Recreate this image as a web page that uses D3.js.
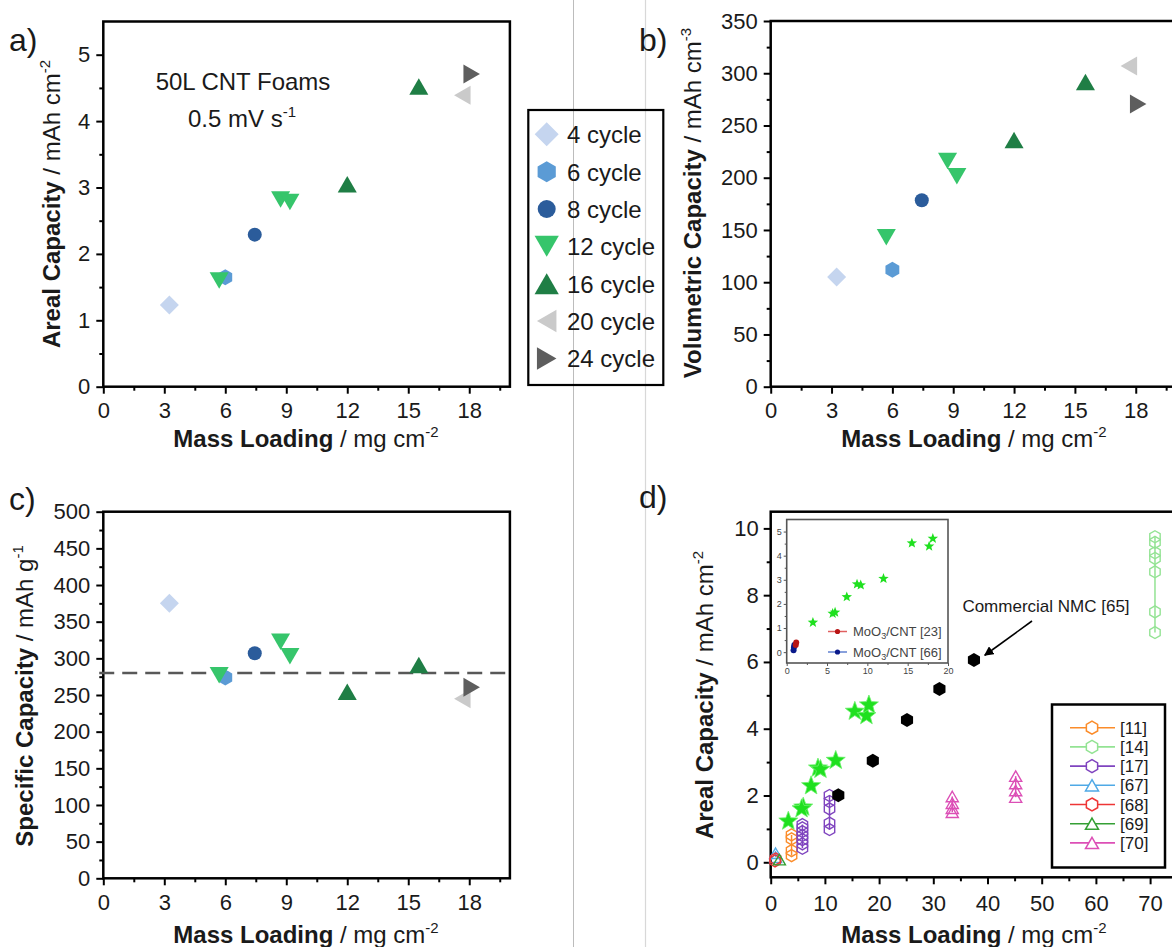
<!DOCTYPE html>
<html><head><meta charset="utf-8">
<script src="https://cdn.jsdelivr.net/npm/d3@7"></script>
<style>
body{margin:0;background:#fff;}
svg{display:block;font-family:"Liberation Sans",Arial,sans-serif;}
</style></head><body>
<svg id="chart" width="1172" height="947"></svg>
<script>
// ---------------- DATA ----------------
const cycleLabels = ["4 cycle","6 cycle","8 cycle","12 cycle","16 cycle","20 cycle","24 cycle"];
const massLoading = [[3.25],[6.0],[7.45],[5.7,8.72,9.18],[12.0,15.52],[17.66],[18.12]];
const arealCapacity = [[1.23],[1.65],[2.29],[1.6,2.82,2.78],[3.05,4.52],[4.39],[4.71]];
const volumetricCapacity = [[105],[112],[178.5],[143,216,201.5],[236,291.5],[307],[270.5]];
const specificCapacity = [[375],[274],[307],[277,322.5,303],[254.5,291],[245],[260.5]];
const averageSpecific = 280;

const nmcLoading = [12.47,18.84,25.15,31.13,37.5];
const nmcAreal = [2.01,3.04,4.26,5.19,6.06];

const refLabels = ["[11]","[14]","[17]","[67]","[68]","[69]","[70]"];
const refLoading = [
  [3.85,3.85,3.85,3.85],
  [70.9,70.9,70.9,70.9,70.9,70.9,70.9],
  [5.85,5.85,5.85,5.85,5.85,5.85,5.85,10.85,10.85,10.85,10.85,10.85],
  [0.9,0.9],
  [0.8,0.9],
  [1.6],
  [33.5,33.5,33.5,33.5,45.2,45.2,45.2,45.2]
];
const refAreal = [
  [0.2,0.35,0.7,0.82],
  [9.75,9.58,9.27,9.1,8.7,7.5,6.88],
  [0.42,0.55,0.68,0.8,0.92,1.03,1.13,0.98,1.17,1.6,1.82,2.0],
  [0.15,0.27],
  [0.04,0.1],
  [0.08],
  [1.5,1.62,1.77,1.97,1.95,2.15,2.36,2.58]
];
const moo23Loading = [1.12,1.18];
const moo23Areal = [0.3,0.4];
const moo66Loading = [0.85,0.9,0.95];
const moo66Areal = [0.08,0.2,0.3];

const xTicksSmall = [0,3,6,9,12,15,18];
const xMinorSmall = [1.5,4.5,7.5,10.5,13.5,16.5,19.5];
const yTicksA = [0,1,2,3,4,5];
const yMinorA = [0.5,1.5,2.5,3.5,4.5];
const yTicksB = [0,50,100,150,200,250,300,350];
const yMinorB = [25,75,125,175,225,275,325];
const yTicksC = [0,50,100,150,200,250,300,350,400,450,500];
const yMinorC = [25,75,125,175,225,275,325,375,425,475];
const xTicksD = [0,10,20,30,40,50,60,70];
const xMinorD = [5,15,25,35,45,55,65,75];
const yTicksD = [0,2,4,6,8,10];
const yMinorD = [1,3,5,7,9];
const xTicksInset = [0,5,10,15,20];
const xMinorInset = [2.5,7.5,12.5,17.5];
const yTicksInset = [0,1,2,3,4,5];
const yMinorInset = [0.5,1.5,2.5,3.5,4.5];

// ---------------- SYMBOLS ----------------
const S = {
  diamond:{draw(c,r){c.moveTo(0,-r);c.lineTo(r,0);c.lineTo(0,r);c.lineTo(-r,0);c.closePath();}},
  hexagon:{draw(c,r){for(let i=0;i<6;i++){const a=Math.PI/3*i-Math.PI/2;const px=r*Math.cos(a),py=r*Math.sin(a);i?c.lineTo(px,py):c.moveTo(px,py);}c.closePath();}},
  circle:{draw(c,r){c.moveTo(r,0);c.arc(0,0,r,0,2*Math.PI);}},
  triUp:{draw(c,r){const h=0.75*r,w=0.866*r;c.moveTo(0,-h);c.lineTo(w,h);c.lineTo(-w,h);c.closePath();}},
  triDown:{draw(c,r){const h=0.75*r,w=0.866*r;c.moveTo(0,h);c.lineTo(w,-h);c.lineTo(-w,-h);c.closePath();}},
  triLeft:{draw(c,r){const h=0.75*r,w=0.866*r;c.moveTo(-h,0);c.lineTo(h,-w);c.lineTo(h,w);c.closePath();}},
  triRight:{draw(c,r){const h=0.75*r,w=0.866*r;c.moveTo(h,0);c.lineTo(-h,-w);c.lineTo(-h,w);c.closePath();}},
  star:{draw(c,r){const ri=r*0.42;for(let i=0;i<10;i++){const rr=i%2?ri:r;const a=Math.PI/5*i-Math.PI/2;const px=rr*Math.cos(a),py=rr*Math.sin(a);i?c.lineTo(px,py):c.moveTo(px,py);}c.closePath();}}
};
const sym = (type,r)=>d3.symbol().type(type).size(r)();

const cycleStyle = [
  {shape:S.diamond, r:9.5, fill:"#c5d5ef", lr:12},
  {shape:S.hexagon, r:8, fill:"#5b9bd5", lr:10.5},
  {shape:S.circle, r:7, fill:"#2b5c9b", lr:9},
  {shape:S.triDown, r:11, fill:"#36c56b", lr:14},
  {shape:S.triUp, r:11, fill:"#1f7e45", lr:14},
  {shape:S.triLeft, r:11, fill:"#cacaca", lr:13},
  {shape:S.triRight, r:11, fill:"#5e5e5e", lr:13}
];
const refStyle = [
  {shape:S.hexagon, color:"#fb8c2a"},
  {shape:S.hexagon, color:"#93e393"},
  {shape:S.hexagon, color:"#7f44bf"},
  {shape:S.triUp, color:"#4fa9e6"},
  {shape:S.hexagon, color:"#ee3535"},
  {shape:S.triUp, color:"#35a035"},
  {shape:S.triUp, color:"#dc4fb6"}
];

const svg = d3.select("#chart");
const INK = "#1a1a1a";

// divider lines
svg.append("line").attr("x1",573.5).attr("x2",573.5).attr("y1",0).attr("y2",947).attr("stroke","#bcbcbc").attr("stroke-width",1);
svg.append("line").attr("x1",645.5).attr("x2",645.5).attr("y1",0).attr("y2",947).attr("stroke","#d8d8d8").attr("stroke-width",1.2);

function panel(cfg){
  const g = svg.append("g");
  const x = d3.scaleLinear().domain(cfg.xDom).range([cfg.left,cfg.right]);
  const y = d3.scaleLinear().domain(cfg.yDom).range([cfg.bottom,cfg.top]);
  const fs = cfg.fs || 22;
  const lw = cfg.lw || 2.5;
  const mj = cfg.major || 7, mn = cfg.minor || 4;
  function style(a, sw){ a.select(".domain").remove(); a.selectAll("line").attr("stroke",cfg.tickColor||"#000").attr("stroke-width",sw); a.selectAll("text").attr("font-size",fs).attr("fill",cfg.labelColor||INK).attr("font-family",null); }
  g.append("g").attr("transform",`translate(0,${cfg.bottom})`).call(d3.axisBottom(x).tickValues(cfg.xMinor).tickSize(mn).tickFormat("")).call(a=>style(a,cfg.tw||2));
  g.append("g").attr("transform",`translate(0,${cfg.bottom})`).call(d3.axisBottom(x).tickValues(cfg.xMajor).tickSize(mj).tickPadding(cfg.xpad||9).tickFormat(d3.format("d"))).call(a=>style(a,cfg.tw||2));
  g.append("g").attr("transform",`translate(${cfg.left},0)`).call(d3.axisLeft(y).tickValues(cfg.yMinor).tickSize(mn).tickFormat("")).call(a=>style(a,cfg.tw||2));
  g.append("g").attr("transform",`translate(${cfg.left},0)`).call(d3.axisLeft(y).tickValues(cfg.yMajor).tickSize(mj).tickPadding(cfg.ypad||6).tickFormat(d3.format("d"))).call(a=>style(a,cfg.tw||2));
  g.append("rect").attr("x",cfg.left).attr("y",cfg.top).attr("width",cfg.right-cfg.left).attr("height",cfg.bottom-cfg.top)
    .attr("fill",cfg.fill||"none").attr("stroke",cfg.frameColor||"#000").attr("stroke-width",lw);
  return {g,x,y};
}

function title(x,y,rot,bold,normal,sup){
  const t = svg.append("text").attr("transform",`translate(${x},${y}) rotate(${rot})`).attr("text-anchor","middle").attr("font-size",24).attr("fill",INK);
  t.append("tspan").attr("font-weight","bold").text(bold);
  t.append("tspan").text(normal);
  t.append("tspan").attr("font-size",15).attr("dy",-10).text(sup);
}
function plabel(x,y,s){ svg.append("text").attr("x",x).attr("y",y).attr("font-size",32).attr("fill",INK).text(s); }

function drawCycles(p, values){
  cycleStyle.forEach((st,i)=>{
    massLoading[i].forEach((m,j)=>{
      p.g.append("path").attr("d",sym(st.shape,st.r)).attr("fill",st.fill)
        .attr("transform",`translate(${p.x(m)},${p.y(values[i][j])})`);
    });
  });
}

// ---------------- PANEL A ----------------
const pa = panel({left:103.3,right:509.9,top:21.5,bottom:386.7,xDom:[0,20],yDom:[0,5.5],
  xMajor:xTicksSmall,xMinor:xMinorSmall,yMajor:yTicksA,yMinor:yMinorA});
drawCycles(pa, arealCapacity);
title(60,204,-90,"Areal Capacity"," / mAh cm","-2");
title(306,447,0,"Mass Loading"," / mg cm","-2");
plabel(9,51,"a)");
svg.append("text").attr("x",243).attr("y",90).attr("text-anchor","middle").attr("font-size",24).attr("fill",INK).text("50L CNT Foams");
{const t=svg.append("text").attr("x",242).attr("y",126.5).attr("text-anchor","middle").attr("font-size",24).attr("fill",INK);
 t.append("tspan").text("0.5 mV s"); t.append("tspan").attr("font-size",15).attr("dy",-10).text("-1");}

// legend a
svg.append("rect").attr("x",528.3).attr("y",110).attr("width",135).attr("height",275).attr("fill","none").attr("stroke","#000").attr("stroke-width",2.2);
cycleLabels.forEach((lab,i)=>{
  const cy = 134.3 + i*37.35;
  const st = cycleStyle[i];
  svg.append("path").attr("d",sym(st.shape,st.lr)).attr("fill",st.fill).attr("transform",`translate(546.7,${cy})`);
  svg.append("text").attr("x",567).attr("y",cy+9).attr("font-size",24).attr("fill",INK).text(lab);
});

// ---------------- PANEL B ----------------
const pb = panel({left:770.7,right:1176.3,top:21,bottom:386.7,xDom:[0,20],yDom:[0,350],
  xMajor:xTicksSmall,xMinor:xMinorSmall,yMajor:yTicksB,yMinor:yMinorB});
drawCycles(pb, volumetricCapacity);
title(701,203,-90,"Volumetric Capacity"," / mAh cm","-3");
title(974,447,0,"Mass Loading"," / mg cm","-2");
plabel(639,51,"b)");

// ---------------- PANEL C ----------------
const pc = panel({left:103.3,right:509.9,top:511.7,bottom:878.3,xDom:[0,20],yDom:[0,500],
  xMajor:xTicksSmall,xMinor:xMinorSmall,yMajor:yTicksC,yMinor:yMinorC});
pc.g.append("line").attr("x1",pc.x(-0.2)).attr("x2",pc.x(20)).attr("y1",pc.y(averageSpecific)).attr("y2",pc.y(averageSpecific))
  .attr("stroke","#585858").attr("stroke-width",2.5).attr("stroke-dasharray","15,8");
drawCycles(pc, specificCapacity);
title(33,696,-90,"Specific Capacity"," / mAh g","-1");
title(306,943,0,"Mass Loading"," / mg cm","-2");
plabel(9,510,"c)");

// ---------------- PANEL D ----------------
const pd = panel({left:770.7,right:1177.2,top:511.7,bottom:877.3,xDom:[0,75],yDom:[-0.45,10.5],
  xMajor:xTicksD,xMinor:xMinorD,yMajor:yTicksD,yMinor:yMinorD,xpad:11,ypad:5});
title(713,695,-90,"Areal Capacity"," / mAh cm","-2");
title(974,943,0,"Mass Loading"," / mg cm","-2");
plabel(639,508,"d)");

// reference series
refStyle.forEach((st,i)=>{
  const groups = d3.groups(refLoading[i].map((m,j)=>[m,refAreal[i][j]]), d=>d[0]);
  groups.forEach(([m,pts])=>{
    const ys = pts.map(p=>p[1]);
    pd.g.append("line").attr("x1",pd.x(m)).attr("x2",pd.x(m)).attr("y1",pd.y(d3.min(ys))).attr("y2",pd.y(d3.max(ys)))
      .attr("stroke",st.color).attr("stroke-width",1.5);
  });
  refLoading[i].forEach((m,j)=>{
    pd.g.append("path").attr("d",sym(st.shape, st.shape===S.triUp?7:6)).attr("fill","none").attr("stroke",st.color).attr("stroke-width",1.4)
      .attr("transform",`translate(${pd.x(m)},${pd.y(refAreal[i][j])})`);
  });
});
// NMC black hexagons
nmcLoading.forEach((m,j)=>{
  pd.g.append("path").attr("d",sym(S.hexagon,7)).attr("fill","#000").attr("transform",`translate(${pd.x(m)},${pd.y(nmcAreal[j])})`);
});
// stars
massLoading.forEach((arr,i)=>arr.forEach((m,j)=>{
  pd.g.append("path").attr("d",sym(S.star,10)).attr("fill","#1fe01f").attr("stroke","#6cf06c").attr("stroke-width",0.8)
    .attr("transform",`translate(${pd.x(m)},${pd.y(arealCapacity[i][j])})`);
}));

// annotation
svg.append("defs").append("marker").attr("id","ah").attr("viewBox","0 0 10 10").attr("refX",9).attr("refY",5)
  .attr("markerWidth",6).attr("markerHeight",6).attr("orient","auto")
  .append("path").attr("d","M0,0L10,5L0,10Z").attr("fill","#000");
svg.append("line").attr("x1",1032).attr("y1",621).attr("x2",pd.x(39.5)).attr("y2",pd.y(6.2))
  .attr("stroke","#000").attr("stroke-width",1.6).attr("marker-end","url(#ah)");
svg.append("text").attr("x",1046).attr("y",612).attr("text-anchor","middle").attr("font-size",17).attr("fill",INK).text("Commercial NMC [65]");

// legend d
svg.append("rect").attr("x",1052).attr("y",704.5).attr("width",113).attr("height",163).attr("fill","#fff").attr("stroke","#000").attr("stroke-width",2.5);
refLabels.forEach((lab,i)=>{
  const cy = 727.7 + i*19.2;
  const st = refStyle[i];
  svg.append("line").attr("x1",1070).attr("x2",1115).attr("y1",cy).attr("y2",cy).attr("stroke",st.color).attr("stroke-width",1.6);
  svg.append("path").attr("d",sym(st.shape, st.shape===S.triUp?7.5:6.5)).attr("fill","#fff").attr("stroke",st.color).attr("stroke-width",1.5)
    .attr("transform",`translate(1092,${cy})`);
  svg.append("text").attr("x",1120).attr("y",cy+6).attr("font-size",17).attr("fill",INK).text(lab);
});

// inset
const pi = panel({left:786.7,right:948,top:519.5,bottom:663,xDom:[0,20],yDom:[-0.45,5.5],
  xMajor:xTicksInset,xMinor:xMinorInset,yMajor:yTicksInset,yMinor:yMinorInset,
  fs:9,lw:1.6,major:3,minor:2,tw:1,xpad:2,ypad:2,fill:"#fff",frameColor:"#555",tickColor:"#555",labelColor:"#444"});
pi.g.raise();
massLoading.forEach((arr,i)=>arr.forEach((m,j)=>{
  pi.g.append("path").attr("d",sym(S.star,5.5)).attr("fill","#1fe01f")
    .attr("transform",`translate(${pi.x(m)},${pi.y(arealCapacity[i][j])})`);
}));
moo66Loading.forEach((m,j)=>pi.g.append("circle").attr("cx",pi.x(m)).attr("cy",pi.y(moo66Areal[j])).attr("r",3).attr("fill","#0a1a8a"));
moo23Loading.forEach((m,j)=>pi.g.append("circle").attr("cx",pi.x(m)).attr("cy",pi.y(moo23Areal[j])).attr("r",3).attr("fill","#b81414"));
[["23","#e06060","#b81414"],["66","#6080d0","#0a1a8a"]].forEach(([ref,lc,dc],i)=>{
  const cy = 631.5 + i*20.5;
  pi.g.append("line").attr("x1",828).attr("x2",847).attr("y1",cy).attr("y2",cy).attr("stroke",lc).attr("stroke-width",1.5);
  pi.g.append("circle").attr("cx",837.5).attr("cy",cy).attr("r",2.6).attr("fill",dc);
  const t = pi.g.append("text").attr("x",853).attr("y",cy+4.5).attr("font-size",13).attr("fill","#444");
  t.append("tspan").text("MoO");
  t.append("tspan").attr("font-size",9).attr("dy",3).text("3");
  t.append("tspan").attr("dy",-3).text("/CNT [" + ref + "]");
});
</script>
</body></html>
